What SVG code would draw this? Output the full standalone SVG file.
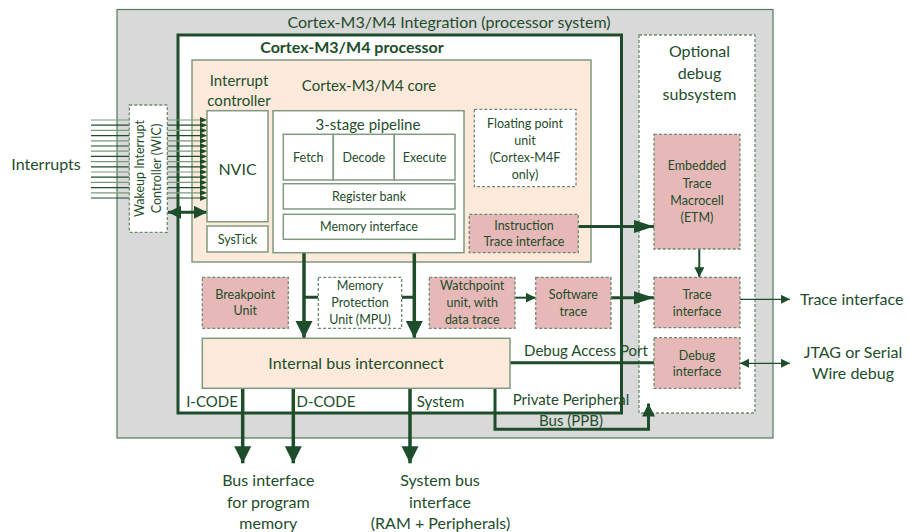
<svg xmlns="http://www.w3.org/2000/svg" width="908" height="532" viewBox="0 0 908 532">
<defs>
<style>
text{font-family:Lato,"Liberation Sans",sans-serif;fill:#1e4d2b;text-anchor:middle}
.t16{font-size:16px}
.t15{font-size:15px}
.t13{font-size:12.5px}
.b{font-weight:bold;font-size:16px}
.st{text-anchor:start}
.box{fill:#fff;stroke:#7f9a80;stroke-width:1.5}
.peach{fill:#fdeadb;stroke:#7f9a80;stroke-width:1.5}
.dash{fill:#fff;stroke:#6f8a70;stroke-width:1.3;stroke-dasharray:3 2}
.pink{fill:#e6b8b7;stroke:#6f8a70;stroke-width:1.3;stroke-dasharray:3 2}
.thick{fill:none;stroke:#1e4d2b;stroke-width:3.5}
.med{fill:none;stroke:#1e4d2b;stroke-width:3}
.thin{fill:none;stroke:#1e4d2b;stroke-width:2}
.hair{fill:none;stroke:#1e4d2b;stroke-width:1.2}
</style>
<marker id="aBig" markerUnits="userSpaceOnUse" markerWidth="18" markerHeight="18" refX="17" refY="8.5" orient="auto"><path d="M0,0 L17,8.5 L0,17 z" fill="#1e4d2b"/></marker>
<marker id="aMed" markerUnits="userSpaceOnUse" markerWidth="21" markerHeight="14" refX="20" refY="6.5" orient="auto"><path d="M0,0 L20,6.5 L0,13 z" fill="#1e4d2b"/></marker>
<marker id="aDbl" markerUnits="userSpaceOnUse" markerWidth="14" markerHeight="14" refX="13" refY="6.5" orient="auto-start-reverse"><path d="M0,0 L13,6.5 L0,13 z" fill="#1e4d2b"/></marker>
<marker id="aPPB" markerUnits="userSpaceOnUse" markerWidth="14" markerHeight="14" refX="13" refY="6.5" orient="auto"><path d="M0,0 L13,6.5 L0,13 z" fill="#1e4d2b"/></marker>
<marker id="aSm" markerUnits="userSpaceOnUse" markerWidth="11" markerHeight="11" refX="10" refY="5" orient="auto"><path d="M0,0 L10,5 L0,10 z" fill="#1e4d2b"/></marker>
<marker id="aTiny" markerUnits="userSpaceOnUse" markerWidth="10" markerHeight="10" refX="9" refY="4.5" orient="auto-start-reverse"><path d="M0,0 L9,4.5 L0,9 z" fill="#1e4d2b"/></marker>
<marker id="aInt" markerUnits="userSpaceOnUse" markerWidth="8" markerHeight="7" refX="7" refY="3" orient="auto"><path d="M0,0 L7,3 L0,6 z" fill="#1e4d2b"/></marker>
</defs>

<g id="integration">
<rect x="117" y="9.5" width="656" height="428.5" fill="#d9d9d9" stroke="#4f7a5c" stroke-width="1.2"/>
<text class="t16" x="449" y="28">Cortex-M3/M4 Integration (processor system)</text>
</g>

<g id="processor">
<rect x="178" y="35" width="443.5" height="378" fill="#fff" stroke="#1e4d2b" stroke-width="3"/>
<text class="b" x="352" y="53">Cortex-M3/M4 processor</text>
</g>

<g id="debug-subsystem">
<rect class="dash" x="639" y="35" width="116" height="378"/>
<text class="t16" x="699.5" y="57">Optional</text>
<text class="t16" x="699.5" y="79">debug</text>
<text class="t16" x="699.5" y="99.5">subsystem</text>
</g>

<g id="core">
<rect class="peach" x="192" y="60" width="399" height="202"/>
<text class="t15" x="239" y="86">Interrupt</text>
<text class="t15" x="239" y="106">controller</text>
<text class="t15" x="369" y="91">Cortex-M3/M4 core</text>
</g>

<g id="connectors">
<g class="hair">
<path d="M91,120H207" marker-end="url(#aInt)" stroke="#7a9a7a"/>
<path d="M91,125.2H207" marker-end="url(#aInt)"/>
<path d="M91,130.4H207" marker-end="url(#aInt)" stroke="#7a9a7a"/>
<path d="M91,135.6H207" marker-end="url(#aInt)"/>
<path d="M91,140.8H207" marker-end="url(#aInt)" stroke="#7a9a7a"/>
<path d="M91,146H207" marker-end="url(#aInt)"/>
<path d="M91,151.2H207" marker-end="url(#aInt)" stroke="#7a9a7a"/>
<path d="M91,156.4H207" marker-end="url(#aInt)"/>
<path d="M91,161.6H207" marker-end="url(#aInt)" stroke="#7a9a7a"/>
<path d="M91,166.8H207" marker-end="url(#aInt)"/>
<path d="M91,172H207" marker-end="url(#aInt)" stroke="#7a9a7a"/>
<path d="M91,177.2H207" marker-end="url(#aInt)"/>
<path d="M91,182.4H207" marker-end="url(#aInt)" stroke="#7a9a7a"/>
<path d="M91,187.6H207" marker-end="url(#aInt)"/>
<path d="M91,192.8H207" marker-end="url(#aInt)" stroke="#7a9a7a"/>
<path d="M91,198H207" marker-end="url(#aInt)"/>
</g>
<path class="med" d="M168,212.3H207" marker-start="url(#aDbl)" marker-end="url(#aDbl)"/>
<path class="thick" d="M304,239.3V338" marker-end="url(#aBig)"/>
<path class="thick" d="M414.3,239.3V338" marker-end="url(#aBig)"/>
<path class="med" d="M304,297.3H318.3 M401.7,297.3H414.3"/>
<path class="med" d="M578.3,226.5H654" marker-end="url(#aMed)"/>
<path class="thin" d="M515,297.7H535.7" marker-end="url(#aSm)"/>
<path class="med" d="M611,297.7H654" marker-end="url(#aMed)"/>
<path class="thin" d="M699.3,249V277.3" marker-end="url(#aSm)"/>
<path class="hair" d="M740,299.3H790" marker-end="url(#aTiny)"/>
<path class="hair" d="M740,363.3H790" marker-start="url(#aTiny)" marker-end="url(#aTiny)"/>
<path class="med" d="M510,362.7H654"/>
<path class="thick" d="M242.7,388.3V463.3" marker-end="url(#aBig)"/>
<path class="thick" d="M293.3,388.3V463.3" marker-end="url(#aBig)"/>
<path class="thick" d="M410,388.3V463.3" marker-end="url(#aBig)"/>
<path class="med" d="M495,388.3V429.3H648.5V403.5" marker-end="url(#aPPB)"/>
</g>

<g id="wic">
<rect class="dash" x="129.3" y="105" width="38" height="127.3"/>
<text class="t13" transform="translate(143.8,168.5) rotate(-90)">Wakeup Interrupt</text>
<text class="t13" transform="translate(161.2,168.5) rotate(-90)">Controller (WIC)</text>
</g>

<g id="nvic">
<rect class="box" x="207" y="110.7" width="61" height="111"/>
<text class="t16" x="237.5" y="174.5">NVIC</text>
</g>
<g id="systick">
<rect class="box" x="207" y="226" width="61" height="26"/>
<text class="t13" x="237.5" y="243.5">SysTick</text>
</g>

<g id="pipeline">
<rect class="box" x="273" y="110.7" width="191" height="142"/>
<text class="t15" x="368" y="130">3-stage pipeline</text>
</g>
<g id="fetch">
<rect class="box" x="283.3" y="134.3" width="50" height="45.7"/>
<text class="t13" x="308.3" y="161.5">Fetch</text>
</g>
<g id="decode">
<rect class="box" x="333.3" y="134.3" width="61" height="45.7"/>
<text class="t13" x="363.8" y="161.5">Decode</text>
</g>
<g id="execute">
<rect class="box" x="394.3" y="134.3" width="60.7" height="45.7"/>
<text class="t13" x="424.6" y="161.5">Execute</text>
</g>
<g id="register-bank">
<rect class="box" x="283.3" y="183.7" width="171.7" height="25.3"/>
<text class="t13" x="369" y="201">Register bank</text>
</g>
<g id="memory-interface">
<rect class="box" x="283.3" y="214.3" width="171.7" height="25"/>
<text class="t13" x="369" y="231.2">Memory interface</text>
</g>

<g id="fpu">
<rect class="dash" x="474.3" y="109.3" width="101.7" height="77.4"/>
<text class="t13" x="525" y="128">Floating point</text>
<text class="t13" x="525" y="145">unit</text>
<text class="t13" x="525" y="162">(Cortex-M4F</text>
<text class="t13" x="525" y="179">only)</text>
</g>

<g id="instr-trace">
<rect class="pink" x="469.3" y="214.3" width="109" height="38.4"/>
<text class="t13" x="524" y="229.5">Instruction</text>
<text class="t13" x="524" y="246">Trace interface</text>
</g>

<g id="breakpoint">
<rect class="pink" x="202.3" y="277.3" width="86" height="51"/>
<text class="t13" x="245.3" y="298.5">Breakpoint</text>
<text class="t13" x="245.3" y="315">Unit</text>
</g>

<g id="mpu">
<rect class="dash" x="318.3" y="277.3" width="83.4" height="51"/>
<text class="t13" x="360" y="289.5">Memory</text>
<text class="t13" x="360" y="306.5">Protection</text>
<text class="t13" x="360" y="323.5">Unit (MPU)</text>
</g>

<g id="watchpoint">
<rect class="pink" x="429.3" y="277.3" width="85.7" height="51"/>
<text class="t13" x="472.2" y="289.5">Watchpoint</text>
<text class="t13" x="472.2" y="306.5">unit, with</text>
<text class="t13" x="472.2" y="323.5">data trace</text>
</g>

<g id="software-trace">
<rect class="pink" x="535.7" y="277.3" width="75.3" height="51"/>
<text class="t13" x="573.3" y="298.5">Software</text>
<text class="t13" x="573.3" y="315.5">trace</text>
</g>

<g id="bus-interconnect">
<rect class="peach" x="202.3" y="338.3" width="307.7" height="50"/>
<text class="t16" x="356" y="369">Internal bus interconnect</text>
</g>

<g id="etm">
<rect class="pink" x="654" y="134.3" width="86" height="114.7"/>
<text class="t13" x="697" y="170">Embedded</text>
<text class="t13" x="697" y="188">Trace</text>
<text class="t13" x="697" y="204.5">Macrocell</text>
<text class="t13" x="697" y="222">(ETM)</text>
</g>

<g id="trace-interface">
<rect class="pink" x="654" y="277.3" width="86" height="50.4"/>
<text class="t13" x="697" y="299">Trace</text>
<text class="t13" x="697" y="315.5">interface</text>
</g>

<g id="debug-interface">
<rect class="pink" x="654" y="337.7" width="86" height="50.6"/>
<text class="t13" x="697" y="359.5">Debug</text>
<text class="t13" x="697" y="376">interface</text>
</g>

<g id="labels">
<text class="t16" x="46" y="169.5">Interrupts</text>
<text class="t16 st" x="800" y="304.5">Trace interface</text>
<text class="t16" x="853" y="358">JTAG or Serial</text>
<text class="t16" x="853" y="379">Wire debug</text>
<text class="t15" x="586" y="356">Debug Access Port</text>
<text class="t15" x="212" y="406.5">I-CODE</text>
<text class="t15" x="326" y="406.5">D-CODE</text>
<text class="t15" x="440.5" y="406.5">System</text>
<text class="t15" x="571" y="404.5">Private Peripheral</text>
<text class="t15" x="571" y="425.5">Bus (PPB)</text>
<text class="t16" x="268.3" y="486">Bus interface</text>
<text class="t16" x="268.3" y="507.5">for program</text>
<text class="t16" x="268.3" y="528.5">memory</text>
<text class="t16" x="440" y="486">System bus</text>
<text class="t16" x="440" y="507.5">interface</text>
<text class="t16" x="440.5" y="528.5">(RAM + Peripherals)</text>
</g>
</svg>
